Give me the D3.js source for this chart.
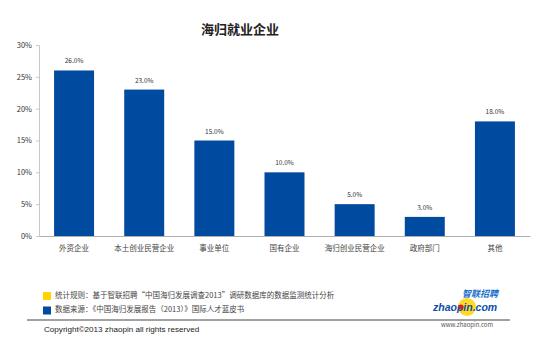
<!DOCTYPE html>
<html><head><meta charset="utf-8">
<script src="https://cdn.jsdelivr.net/npm/d3@7/dist/d3.min.js"></script>
<style>body{margin:0;background:#fff;}svg{display:block;}</style>
</head><body>
<script>
const categories = ["外资企业","本土创业民营企业","事业单位","国有企业","海归创业民营企业","政府部门","其他"];
const values = [26.0, 23.0, 15.0, 10.0, 5.0, 3.0, 18.0];
const yTicks = [0, 5, 10, 15, 20, 25, 30];
const title = "海归就业企业";
const legendItems = [
  {color:"#ffd200", text:"统计规则：基于智联招聘“中国海归发展调查2013”调研数据库的数据监测统计分析"},
  {color:"#004a9f", text:"数据来源：《中国海归发展报告（2013）》国际人才蓝皮书"}
];
const copyright = "Copyright©2013 zhaopin all rights reserved";

const W = 550, H = 359;
const svg = d3.select("body").append("svg").attr("width", W).attr("height", H);
const font = "'Noto Sans CJK SC','Noto Sans',sans-serif";

const x = d3.scaleBand().domain(categories).range([39, 530]).paddingInner(0.43).paddingOuter(0.215);
const y = d3.scaleLinear().domain([0, 30]).range([236, 45]);

svg.append("text").attr("x", 240).attr("y", 34).attr("text-anchor", "middle")
  .attr("font-family", font).attr("font-weight", "bold").attr("font-size", 13).attr("fill", "#222").text(title);

// y axis
const ya = svg.append("g").attr("transform", "translate(39,0)")
  .call(d3.axisLeft(y).tickValues(yTicks).tickFormat(d => d + "%").tickSize(3).tickPadding(4));
ya.select(".domain").attr("stroke", "#c8c8c8");
ya.selectAll(".tick line").attr("stroke", "#c8c8c8");
ya.selectAll(".tick text").attr("font-family", font).attr("font-size", 7.5).attr("fill", "#333");

// bars
svg.selectAll("rect.bar").data(values).join("rect").attr("class", "bar")
  .attr("x", (d, i) => x(categories[i])).attr("width", x.bandwidth())
  .attr("y", d => y(d)).attr("height", d => y(0) - y(d)).attr("fill", "#004a9f");

svg.selectAll("text.val").data(values).join("text").attr("class", "val")
  .attr("x", (d, i) => x(categories[i]) + x.bandwidth() / 2).attr("y", d => y(d) - 7)
  .attr("text-anchor", "middle").attr("font-family", font).attr("font-size", 6.5).attr("fill", "#333")
  .text(d => d.toFixed(1) + "%");

// x axis
const xa = svg.append("g").attr("transform", "translate(0,236)")
  .call(d3.axisBottom(x).tickSize(0).tickPadding(10));
xa.select(".domain").attr("stroke", "#b0b0b0");
xa.selectAll(".tick text").attr("font-family", font).attr("font-size", 7.5).attr("fill", "#444");

// legend
legendItems.forEach((it, i) => {
  const yy = 292 + i * 14.5;
  svg.append("rect").attr("x", 43).attr("y", yy).attr("width", 8).attr("height", 8).attr("fill", it.color);
  svg.append("text").attr("x", 55).attr("y", yy + 5.5).attr("font-family", font).attr("font-size", 7.5)
    .attr("fill", "#444").text(it.text);
});
svg.append("line").attr("x1", 27).attr("x2", 510).attr("y1", 320).attr("y2", 320).attr("stroke", "#444").attr("stroke-width", 1);
svg.append("text").attr("x", 44).attr("y", 332).attr("font-family", "'Liberation Sans',Arial,sans-serif")
  .attr("font-size", 8.1).attr("fill", "#222").text(copyright);

// logo
svg.append("circle").attr("cx", 467).attr("cy", 307).attr("r", 9).attr("fill", "#ffd200").attr("opacity", 0.85);
svg.append("text").attr("x", 462).attr("y", 297).attr("font-family", font).attr("font-weight", "bold")
  .attr("font-size", 9).attr("fill", "#1a6fc9").attr("font-style", "italic").text("智联招聘");
svg.append("text").attr("x", 433).attr("y", 311).attr("font-family", "'Liberation Sans',Arial,sans-serif")
  .attr("font-weight", "bold").attr("font-style", "italic").attr("font-size", 10.5).attr("fill", "#0a4fa8").text("zhaopin.com");
svg.append("circle").attr("cx", 461).attr("cy", 307).attr("r", 2.5).attr("fill", "#d0202a");
svg.append("text").attr("x", 467).attr("y", 327).attr("text-anchor", "middle").attr("font-family", font)
  .attr("font-size", 6).attr("fill", "#555").text("www.zhaopin.com");
</script>
</body></html>
